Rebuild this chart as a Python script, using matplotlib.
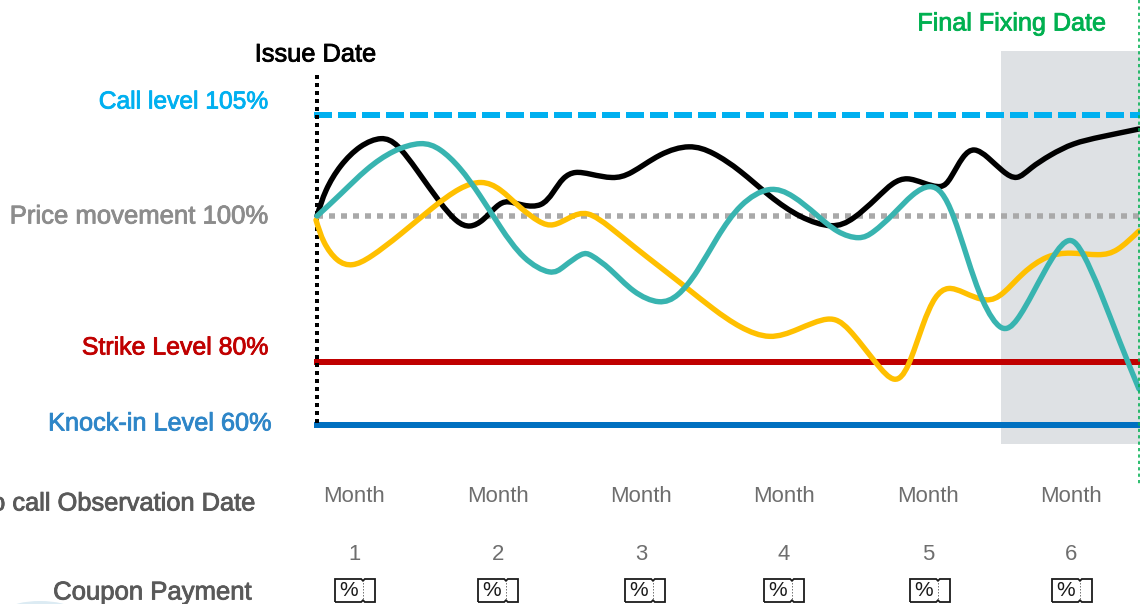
import matplotlib
matplotlib.use("Agg")
import matplotlib.pyplot as plt
import matplotlib.patheffects as pe
from matplotlib.path import Path
from matplotlib.patches import PathPatch, Rectangle, Ellipse
import numpy as np

plt.rcParams['font.family'] = ['Liberation Sans', 'DejaVu Sans']

# chart units: x = distance from the issue date, y = height above the knock-in level
MONTH_X = [37, 181, 324, 467, 611, 754]
MONTH_LABELS = ["1", "2", "3", "4", "5", "6"]
ICON_X = [32, 175, 322, 461, 607, 749]

CALL, PRICE, STRIKE, KNOCK = 310, 209, 63, 0

black_x = [0,8,23,43,65,80,100,123,140,153,166,180,190,206,225,236,246,258,273,296,313,343,373,396,423,453,483,516,536,560,576,590,606,625,633,646,657,671,686,700,713,733,756,783,822]
black_y = [209,235,260,280,289,282,255,222,202,197,204,220,225,219,218,232,248,254,251,246,250,272,281,273,255,228,207,196,205,227,243,248,242,236,245,270,278,268,253,244,257,270,282,288,296]
teal_x = [0,23,50,76,105,123,143,163,183,206,235,246,266,273,293,316,343,361,380,400,423,453,476,500,520,543,556,576,596,613,625,636,650,665,685,700,716,736,753,766,783,803,822]
teal_y = [209,230,257,275,284,277,258,230,198,165,149,158,173,171,157,132,120,128,152,188,222,240,230,210,192,185,192,210,232,241,234,212,168,122,90,103,132,170,191,173,135,82,36]
yellow_x = [-1,6,20,35,53,83,116,143,165,183,203,223,236,253,270,293,316,343,370,396,423,453,480,513,530,560,578,591,606,618,631,646,670,686,706,730,753,783,800,822]
yellow_y = [205,182,163,158,167,190,218,238,245,237,217,202,198,208,215,198,179,158,137,116,97,85,95,110,100,60,40,55,102,130,139,133,122,130,153,170,173,169,173,194]

COL_BLACK, COL_TEAL, COL_YELLOW = "#000000", "#38B4B0", "#FFC000"
COL_CALL, COL_GRAY, COL_STRIKE, COL_KNOCK = "#00B0F0", "#A9A9A9", "#C00000", "#0070C0"
COL_GREEN, COL_SHADE, COL_TEXT = "#00B050", "#DEE1E4", "#595959"

fig = plt.figure(figsize=(11.4, 6.04), dpi=100)
ax = fig.add_axes([0, 0, 1, 1])
ax.set_xlim(-317, 823)
ax.set_ylim(-179, 425)
ax.axis("off")
PX = 72 / 100


def smooth(x, y, color, lw=5.4):
    # cubic B-spline through the read values, drawn as Bezier segments
    p = np.column_stack([x, y]).astype(float)
    p = np.vstack([2 * p[0] - p[1], p, 2 * p[-1] - p[-2]])
    verts = [(p[0] + 4 * p[1] + p[2]) / 6]
    codes = [Path.MOVETO]
    for i in range(1, len(p) - 2):
        verts += [(2 * p[i] + p[i + 1]) / 3, (p[i] + 2 * p[i + 1]) / 3,
                  (p[i] + 4 * p[i + 1] + p[i + 2]) / 6]
        codes += [Path.CURVE4] * 3
    ax.add_patch(PathPatch(Path(verts, codes), fill=False, edgecolor=color,
                           lw=lw * PX, capstyle="round", joinstyle="round", zorder=5))


def label(x, y, s, color, size=17.6, ha="right", bold=0.6):
    t = ax.text(x, y, s, color=color, fontsize=size, ha=ha, va="center", zorder=8)
    t.set_path_effects([pe.withStroke(linewidth=bold, foreground=color)])
    return t


def ticket(x):
    # coupon icon: a ticket outline with two notches and a dotted tear line
    l, r, b, t, n = x - 14, x + 26, -177, -154, 14
    notch = 1.8
    verts = [(l, b), (n + x - notch, b), (n + x, b + notch), (n + x + notch, b), (r, b),
             (r, t), (n + x + notch, t), (n + x, t - notch), (n + x - notch, t), (l, t), (l, b)]
    ax.add_patch(PathPatch(Path(verts, closed=False), fc="white", ec="#1A1A1A", lw=1.5 * PX * 1.2, zorder=6))
    ax.plot([x + 14, x + 14], [b + 3, t - 3], color="#777777", lw=1 * PX, ls=(0, (1.5, 1.5)), zorder=7)
    ax.text(x - 0.5, -166, "%", color="#1A1A1A", fontsize=15, ha="center", va="center", zorder=7)


# shaded final period
ax.add_patch(Rectangle((684, -19), 140, 393, fc=COL_SHADE, ec="none", zorder=1))

# level lines
ax.plot([-3, 823], [CALL, CALL], color=COL_CALL, lw=6 * PX, zorder=3,
        dashes=(18 / 6, 6 / 6), dash_capstyle="butt")
ax.plot([0, 823], [PRICE, PRICE], color=COL_GRAY, lw=5.5 * PX, zorder=3,
        dashes=(6 / 5.5, 6 / 5.5), dash_capstyle="butt")
ax.plot([-3, 823], [STRIKE, STRIKE], color=COL_STRIKE, lw=6 * PX, zorder=3, solid_capstyle="butt")
ax.plot([-3, 823], [KNOCK, KNOCK], color=COL_KNOCK, lw=6 * PX, zorder=3, solid_capstyle="butt")

# issue and final fixing verticals
ax.plot([0, 0], [350, 0], color="black", lw=4 * PX, zorder=4,
        dashes=(4 / 4, 4 / 4), dash_capstyle="butt")
ax.plot([822, 822], [425, -60], color=COL_GREEN, lw=1.6 * PX, zorder=7,
        dashes=(2, 2), dash_capstyle="butt")

smooth(black_x, black_y, COL_BLACK)
smooth(yellow_x, yellow_y, COL_YELLOW)
smooth(teal_x, teal_y, COL_TEAL)

# labels
label(-1.5, 370.5, "Issue Date", "black", size=18.3, ha="center")
label(695, 401.5, "Final Fixing Date", COL_GREEN, size=18.1, ha="center")
label(-49, 323.5, "Call level 105%", COL_CALL, size=17.7)
label(-48, 208.5, "Price movement 100%", "#8C8C8C", size=18.5)
label(-49, 77.5, "Strike Level 80%", COL_STRIKE, size=17.9)
label(-45, 1.5, "Knock-in Level 60%", "#2E86C8", size=18.2)
label(-61, -78.5, "Auto call Observation Date", COL_TEXT, size=18.3)
label(-65, -167.5, "Coupon Payment", COL_TEXT, size=18.5)

for x, s in zip(MONTH_X, MONTH_LABELS):
    ax.text(x, -72, "Month", color="#6E6E6E", fontsize=15.9, ha="center", va="center")
    ax.text(x, -129.5, s, color="#6E6E6E", fontsize=15.9, ha="center", va="center")

for x in ICON_X:
    ticket(x)

# faint mark at the lower-left edge
ax.add_patch(Ellipse((-277, -184), 60, 16, fc="#DCEBF3", ec="none", zorder=1))

fig.savefig("out.png", dpi=100)
